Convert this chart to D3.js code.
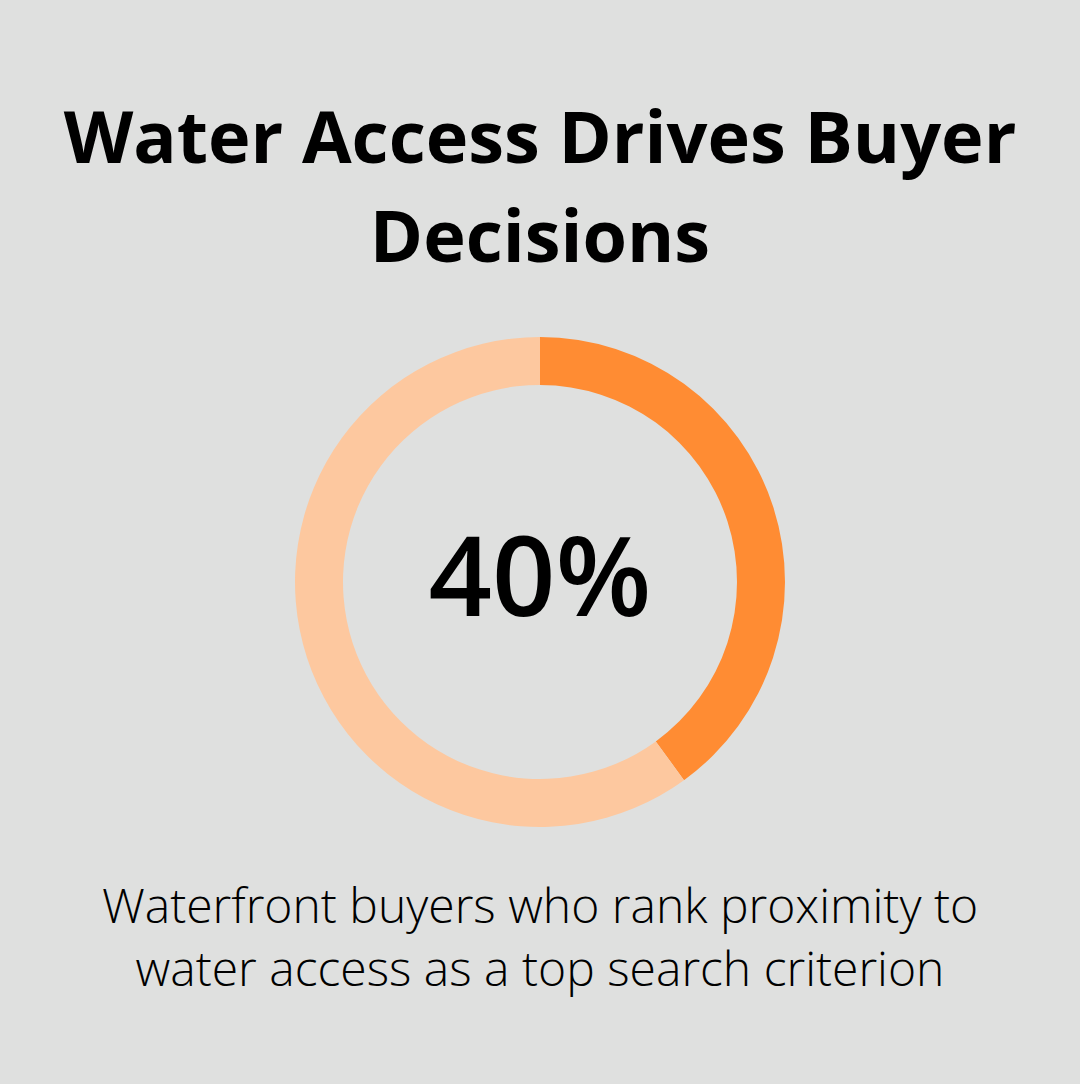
<!DOCTYPE html><html><head><meta charset="utf-8">
<script src="https://cdn.jsdelivr.net/npm/d3@7"></script>
<style>body{margin:0;background:#dfe0df}</style></head><body>
<svg id="c" width="1080" height="1084"></svg>
<script>
const titleLines=["Water Access Drives Buyer","Decisions"];
const subtitleLines=["Waterfront buyers who rank proximity to","water access as a top search criterion"];
const labels=["Yes","Other"];
const values=[40,60];
const colors=["#ff8c33","#fdc89f"];
const svg=d3.select("#c");
svg.append("rect").attr("width",1080).attr("height",1084).attr("fill","#dfe0df");
svg.selectAll("text.t").data(titleLines).join("text").attr("x",540).attr("y",(d,i)=>163+i*99)
 .attr("text-anchor","middle").attr("font-family","Open Sans").attr("font-weight",700).attr("font-size",72).attr("fill","#000").text(d=>d);
const g=svg.append("g").attr("transform","translate(540,582)");
const pie=d3.pie().sort(null).value(d=>d);
const arc=d3.arc().innerRadius(197).outerRadius(245);
g.selectAll("path").data(pie(values)).join("path").attr("d",arc).attr("fill",(d,i)=>colors[i]);
g.append("text").attr("y",34).attr("text-anchor","middle").attr("font-family","Open Sans").attr("font-weight",600).attr("font-size",111).attr("fill","#000").text(values[0]+"%");
svg.selectAll("text.s").data(subtitleLines).join("text").attr("x",540).attr("y",(d,i)=>923+i*63)
 .attr("text-anchor","middle").attr("font-family","Open Sans").attr("font-weight",300).attr("font-size",48).attr("fill","#000").text(d=>d);
</script></body></html>
